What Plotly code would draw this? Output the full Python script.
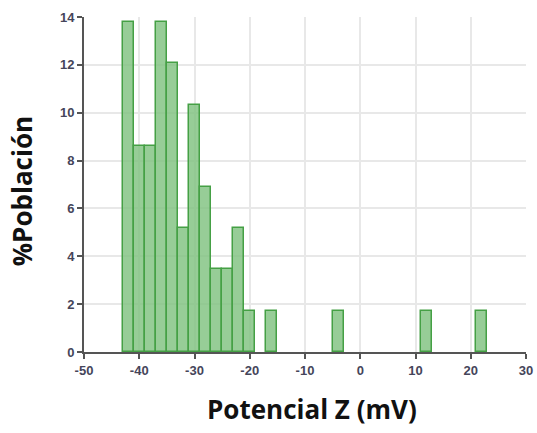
import plotly.graph_objects as go

# Zeta potential distribution: 2 mV bins (centers) and % of population
bin_centers = [-42, -40, -38, -36, -34, -32, -30, -28, -26, -24, -22, -20, -16, -4, 12, 22]
population_pct = [13.79, 8.62, 8.62, 13.79, 12.07, 5.17, 10.34, 6.90, 3.45, 3.45, 5.17, 1.72, 1.72, 1.72, 1.72, 1.72]
bin_width = 2

x_ticks = [-50, -40, -30, -20, -10, 0, 10, 20, 30]
y_ticks = [0, 2, 4, 6, 8, 10, 12, 14]

fig = go.Figure(
    go.Bar(
        x=bin_centers,
        y=population_pct,
        width=[bin_width] * len(bin_centers),
        marker=dict(color="rgba(125,192,125,0.8)", line=dict(color="#45a045", width=1.5)),
    )
)

tick_font = dict(family="Liberation Sans, Arial, sans-serif", size=13, color="#45455a", weight="bold")
title_font = dict(family="Open Sans, Noto Sans, sans-serif", size=26, color="#111111")

axis_common = dict(
    tickfont=tick_font,
    showgrid=True,
    gridcolor="#e8e8e8",
    gridwidth=2,
    zeroline=False,
    showline=True,
    linecolor="#555555",
    linewidth=2,
    ticks="outside",
    ticklen=5,
    tickwidth=2,
    tickcolor="#555555",
    automargin=False,
)

fig.update_layout(
    width=537,
    height=433,
    margin=dict(l=84, r=11, t=17, b=81),
    paper_bgcolor="white",
    plot_bgcolor="white",
    showlegend=False,
    bargap=0,
    xaxis=dict(range=[-50, 30], tickvals=x_ticks, ticktext=[str(v) for v in x_ticks], **axis_common),
    yaxis=dict(range=[0, 14], tickvals=y_ticks, **axis_common),
    annotations=[
        dict(
            text="<b>Potencial Z (mV)</b>",
            xref="paper", yref="paper",
            x=0.516, y=-0.17,
            xanchor="center", yanchor="middle",
            showarrow=False,
            font=title_font,
        ),
        dict(
            text="<b>%Población</b>",
            xref="paper", yref="paper",
            x=-0.14, y=0.48,
            xanchor="center", yanchor="middle",
            textangle=-90,
            showarrow=False,
            font=title_font,
        ),
    ],
)

fig.write_html("out.html")
